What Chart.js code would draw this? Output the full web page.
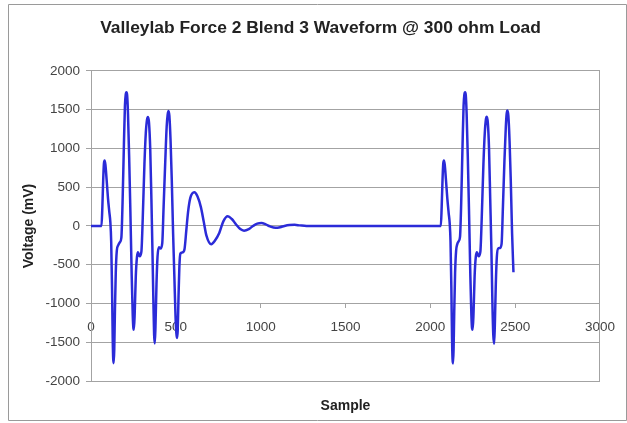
<!DOCTYPE html>
<html>
<head>
<meta charset="utf-8">
<script src="https://cdn.jsdelivr.net/npm/chart.js@4.4.1/dist/chart.umd.min.js"></script>
<style>
  html, body { margin: 0; padding: 0; background: #ffffff; }
  canvas { display: block; }
</style>
</head>
<body>
<canvas id="c" width="627" height="423"></canvas>
<script>
// ---- Data ----
const chartTitle = 'Valleylab Force 2 Blend 3 Waveform @ 300 ohm Load';
const xAxisTitle = 'Sample';
const yAxisTitle = 'Voltage (mV)';
const xTickValues = [0, 500, 1000, 1500, 2000, 2500, 3000];
const yTickValues = [-2000, -1500, -1000, -500, 0, 500, 1000, 1500, 2000];

// First burst (sample index, millivolts)
const burst1Samples = [
  0,62,67,72,76,80,85,92,100,108,
  114,119,124,128,131,134,137,141,146,152,
  160,170,179,186,194,200,205,209,213,218,
  225,232,240,246,250,253,258,264,271,277,
  287,297,305,315,323,330,336,342,349,356,
  362,368,372,376,380,386,392,400,410,420,
  428,438,446,452,457,462,469,476,484,492,
  498,503,507];
const burst1Volts = [
  0,0,250,600,800,845,790,600,360,180,
  50,-200,-800,-1450,-1720,-1770,-1600,-1100,-600,-320,
  -250,-210,-150,300,1050,1550,1700,1727,1690,1450,
  880,200,-650,-1150,-1320,-1340,-1100,-650,-400,-340,
  -390,-330,100,800,1200,1370,1405,1330,1000,350,
  -300,-1000,-1400,-1515,-1300,-750,-400,-275,-290,-220,
  250,850,1280,1440,1485,1420,1100,600,-100,-700,
  -1150,-1380,-1445];

// Ring-down and flat section
const ringSamples = [
  511,516,521,527,540,551,562,572,585,609,
  628,648,665,680,709,730,756,780,806,830,
  855,880,902,930,955,980,1005,1030,1055,1088,
  1115,1140,1170,1200,1230,1270,1500,2000,2062];
const ringVolts = [
  -1350,-900,-520,-355,-340,-300,-50,180,360,436,
  380,240,50,-120,-235,-190,-90,60,125,90,
  20,-40,-60,-40,0,30,38,20,-5,-23,
  -15,0,12,15,8,0,0,0,0];

// Second burst
const burst2Samples = [
  2067,2072,2076,2080,2085,2092,2100,2108,2114,2119,
  2124,2128,2131,2134,2137,2141,2146,2152,2158,2166,
  2175,2182,2190,2196,2201,2205,2209,2214,2221,2228,
  2236,2242,2246,2250,2255,2261,2268,2275,2285,2295,
  2303,2313,2321,2328,2333,2339,2346,2353,2360,2366,
  2371,2376,2380,2386,2392,2400,2410,2420,2428,2437,
  2445,2450,2455,2460,2467,2474,2482,2490];
const burst2Volts = [
  250,600,800,845,790,600,360,170,40,-200,
  -800,-1450,-1720,-1775,-1600,-1100,-600,-320,-240,-200,
  -140,300,1050,1550,1700,1727,1690,1450,880,200,
  -650,-1150,-1320,-1340,-1100,-650,-400,-340,-390,-330,
  100,800,1200,1380,1410,1330,1000,350,-300,-1000,
  -1400,-1520,-1300,-750,-400,-290,-285,-230,250,850,
  1280,1450,1490,1420,1100,600,-100,-596];

// ---- Build chart ----
const sampleIndex = burst1Samples.concat(ringSamples, burst2Samples);
const voltageMv = burst1Volts.concat(ringVolts, burst2Volts);
const points = sampleIndex.map((s, i) => ({ x: s, y: voltageMv[i] }));

const FONT = "'Liberation Sans', Arial, Helvetica, sans-serif";
const GRID = '#a3a3a3';

const framePlugin = {
  id: 'frame',
  beforeDraw(chart) {
    const c = chart.ctx;
    c.save();
    c.fillStyle = '#ffffff';
    c.fillRect(0, 0, chart.width, chart.height);
    c.strokeStyle = '#9a9a9a';
    c.lineWidth = 1;
    c.beginPath();
    c.moveTo(8.5, chart.height - 2.5);
    c.lineTo(8.5, 4.5);
    c.lineTo(chart.width - 0.5, 4.5);
    c.lineTo(chart.width - 0.5, chart.height - 2.5);
    c.lineTo(8.5, chart.height - 2.5);
    c.stroke();
    c.restore();
  }
};

new Chart(document.getElementById('c'), {
  type: 'line',
  data: {
    datasets: [{
      data: points,
      borderColor: '#2b2bd8',
      borderWidth: 2.5,
      pointRadius: 0,
      fill: false,
      cubicInterpolationMode: 'monotone'
    }]
  },
  options: {
    responsive: false,
    animation: false,
    devicePixelRatio: 1,
    layout: { padding: { left: 14, right: 0, top: 0, bottom: 0 } },
    plugins: {
      legend: { display: false },
      tooltip: { enabled: false },
      title: {
        display: true,
        text: chartTitle,
        color: '#222222',
        font: { family: FONT, size: 17.4, weight: 'bold' },
        padding: { top: 17.6, bottom: 32.5 }
      }
    },
    scales: {
      x: {
        type: 'linear',
        position: 'bottom',
        min: xTickValues[0],
        max: xTickValues[xTickValues.length - 1],
        ticks: { display: false },
        grid: { display: false, drawTicks: false },
        border: { display: true, color: GRID },
        title: {
          display: true,
          text: xAxisTitle,
          color: '#222222',
          font: { family: FONT, size: 14, weight: 'bold' },
          padding: { top: 0, bottom: 8 }
        },
        afterFit(scale) { scale.height = 42; }
      },
      x2: {
        type: 'linear',
        position: { y: -1000 },
        min: xTickValues[0],
        max: xTickValues[xTickValues.length - 1],
        afterBuildTicks(scale) { scale.ticks = xTickValues.map(v => ({ value: v })); },
        ticks: {
          callback: v => String(v),
          color: '#444444',
          font: { family: FONT, size: 13.5 },
          padding: 12,
          maxRotation: 0,
          autoSkip: false
        },
        grid: { drawOnChartArea: false, drawTicks: true, tickLength: 4, color: GRID },
        border: { display: true, color: GRID }
      },
      y: {
        type: 'linear',
        position: 'left',
        min: yTickValues[0],
        max: yTickValues[yTickValues.length - 1],
        afterBuildTicks(scale) { scale.ticks = yTickValues.map(v => ({ value: v })); },
        ticks: {
          callback: v => String(v),
          color: '#444444',
          font: { family: FONT, size: 13.5 },
          padding: 6
        },
        grid: { color: GRID, tickLength: 5 },
        border: { display: true, color: GRID },
        title: {
          display: true,
          text: yAxisTitle,
          color: '#222222',
          font: { family: FONT, size: 14, weight: 'bold' },
          padding: { top: 7, bottom: 0 }
        },
        afterFit(scale) { scale.width = 77; }
      },
      yRight: {
        type: 'linear',
        axis: 'y',
        position: 'right',
        min: yTickValues[0],
        max: yTickValues[yTickValues.length - 1],
        ticks: { display: false },
        grid: { display: false, drawTicks: false },
        border: { display: true, color: GRID },
        afterFit(scale) { scale.width = 24; }
      }
    }
  },
  plugins: [framePlugin]
});
</script>
</body>
</html>
